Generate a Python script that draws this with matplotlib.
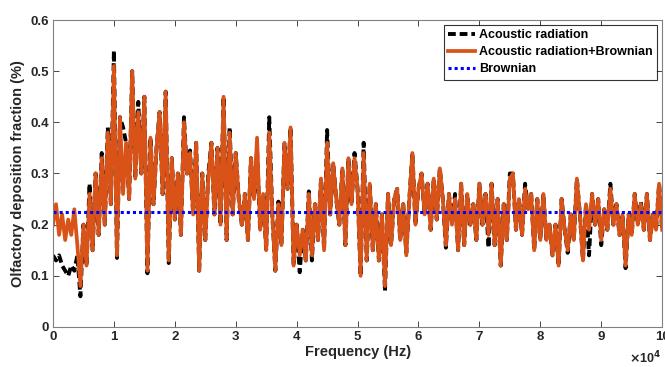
import matplotlib
matplotlib.use("Agg")
import matplotlib.pyplot as plt
import numpy as np

# Frequency grid (kHz steps of 0.5 -> Hz)
freq_khz = [i * 0.5 for i in range(201)]

ar_brownian = [
    0.20, 0.24, 0.18, 0.22, 0.17, 0.21, 0.18, 0.23, 0.16, 0.08,
    0.20, 0.12, 0.26, 0.15, 0.30, 0.18, 0.33, 0.20, 0.38, 0.24,
    0.51, 0.14, 0.41, 0.26, 0.36, 0.25, 0.50, 0.29, 0.42, 0.30,
    0.45, 0.11, 0.37, 0.24, 0.35, 0.42, 0.26, 0.46, 0.13, 0.33,
    0.21, 0.30, 0.18, 0.40, 0.30, 0.34, 0.22, 0.36, 0.11, 0.30,
    0.17, 0.29, 0.36, 0.22, 0.35, 0.20, 0.45, 0.17, 0.38, 0.22,
    0.34, 0.25, 0.20, 0.26, 0.17, 0.33, 0.25, 0.37, 0.19, 0.26,
    0.15, 0.38, 0.22, 0.11, 0.24, 0.16, 0.36, 0.27, 0.39, 0.12,
    0.20, 0.14, 0.19, 0.13, 0.26, 0.14, 0.24, 0.17, 0.29, 0.15,
    0.36, 0.22, 0.32, 0.25, 0.20, 0.31, 0.16, 0.33, 0.24, 0.33,
    0.27, 0.10, 0.34, 0.13, 0.28, 0.15, 0.24, 0.13, 0.22, 0.08,
    0.26, 0.16, 0.25, 0.27, 0.17, 0.24, 0.14, 0.25, 0.34, 0.20,
    0.27, 0.30, 0.22, 0.28, 0.19, 0.29, 0.21, 0.31, 0.25, 0.16,
    0.26, 0.20, 0.25, 0.15, 0.28, 0.16, 0.26, 0.20, 0.24, 0.17,
    0.28, 0.20, 0.26, 0.18, 0.28, 0.16, 0.25, 0.12, 0.24, 0.17,
    0.29, 0.30, 0.19, 0.25, 0.18, 0.27, 0.23, 0.26, 0.15, 0.25,
    0.17, 0.26, 0.17, 0.20, 0.14, 0.20, 0.12, 0.25, 0.19, 0.15,
    0.22, 0.17, 0.29, 0.22, 0.13, 0.24, 0.19, 0.26, 0.20, 0.25,
    0.17, 0.23, 0.19, 0.27, 0.20, 0.24, 0.18, 0.22, 0.12, 0.22,
    0.18, 0.26, 0.20, 0.24, 0.19, 0.26, 0.17, 0.22, 0.19, 0.28,
    0.19,
]

acoustic = [
    0.14, 0.13, 0.14, 0.12, 0.11, 0.10, 0.12, 0.11, 0.14, 0.06,
    0.20, 0.12, 0.28, 0.15, 0.30, 0.18, 0.34, 0.20, 0.39, 0.24,
    0.54, 0.135, 0.41, 0.39, 0.36, 0.25, 0.50, 0.29, 0.44, 0.30,
    0.45, 0.105, 0.37, 0.24, 0.35, 0.42, 0.26, 0.46, 0.125, 0.33,
    0.21, 0.30, 0.18, 0.41, 0.30, 0.345, 0.22, 0.36, 0.11, 0.30,
    0.17, 0.30, 0.36, 0.22, 0.35, 0.20, 0.45, 0.17, 0.39, 0.22,
    0.34, 0.25, 0.20, 0.26, 0.17, 0.33, 0.25, 0.345, 0.19, 0.26,
    0.15, 0.41, 0.22, 0.11, 0.245, 0.16, 0.36, 0.27, 0.39, 0.12,
    0.20, 0.107, 0.19, 0.13, 0.265, 0.13, 0.24, 0.17, 0.29, 0.15,
    0.385, 0.22, 0.32, 0.25, 0.20, 0.31, 0.16, 0.33, 0.24, 0.34,
    0.27, 0.10, 0.36, 0.13, 0.28, 0.15, 0.24, 0.13, 0.22, 0.07,
    0.26, 0.16, 0.25, 0.27, 0.17, 0.24, 0.145, 0.25, 0.34, 0.20,
    0.27, 0.30, 0.22, 0.28, 0.19, 0.29, 0.21, 0.31, 0.25, 0.155,
    0.26, 0.20, 0.26, 0.15, 0.28, 0.16, 0.26, 0.20, 0.24, 0.17,
    0.28, 0.20, 0.26, 0.155, 0.28, 0.16, 0.25, 0.12, 0.24, 0.17,
    0.30, 0.30, 0.19, 0.25, 0.18, 0.28, 0.23, 0.26, 0.15, 0.25,
    0.17, 0.26, 0.17, 0.20, 0.14, 0.20, 0.12, 0.25, 0.19, 0.145,
    0.22, 0.17, 0.29, 0.22, 0.13, 0.24, 0.14, 0.26, 0.20, 0.25,
    0.16, 0.23, 0.19, 0.28, 0.20, 0.24, 0.18, 0.22, 0.115, 0.22,
    0.18, 0.26, 0.20, 0.245, 0.19, 0.26, 0.17, 0.22, 0.19, 0.28,
    0.19,
]

brownian_level = 0.225

freq_hz = np.array(freq_khz) * 1000.0

plt.rcParams['font.family'] = ['Liberation Sans', 'DejaVu Sans']
plt.rcParams['font.weight'] = 'bold'

fig = plt.figure(figsize=(6.65, 3.67), dpi=100)
ax = fig.add_axes([0.0797, 0.109, 0.916, 0.8365])

ax.plot(freq_hz, acoustic, color='black', linestyle=(0, (2, 1)), linewidth=2.8,
        label='Acoustic radiation')
ax.plot(freq_hz, ar_brownian, color='#D95319', linestyle='-', linewidth=2.7,
        label='Acoustic radiation+Brownian')
ax.plot([freq_hz[0], freq_hz[-1]], [brownian_level, brownian_level], color='#0000FF',
        linestyle=(0, (1, 1)), linewidth=2.2, label='Brownian')

ax.set_xlim(0, 100000)
ax.set_ylim(0, 0.6)
ax.set_xticks(np.arange(0, 100001, 10000))
ax.set_xticklabels([str(i) for i in range(11)])
ax.set_yticks([0, 0.1, 0.2, 0.3, 0.4, 0.5, 0.6])
ax.set_yticklabels(['0', '0.1', '0.2', '0.3', '0.4', '0.5', '0.6'])

ax.tick_params(direction='in', top=True, right=True, length=4, width=0.6,
               labelsize=9.5, colors='#262626', pad=3)
for lbl in ax.get_xticklabels() + ax.get_yticklabels():
    lbl.set_fontweight('bold')
for s in ax.spines.values():
    s.set_color('#808080')
    s.set_linewidth(0.8)

ax.set_xlabel('Frequency (Hz)', fontsize=10.5, fontweight='bold', color='#262626', labelpad=1)
ax.set_ylabel('Olfactory deposition fraction (%)', fontsize=10.5, fontweight='bold',
              color='#262626', labelpad=4)
ax.text(0.998, -0.075, r'$\times$10$^4$', transform=ax.transAxes, ha='right', va='top',
        fontsize=9, fontweight='bold', color='#262626')

leg = ax.legend(loc='upper right', frameon=True, fancybox=False,
                handlelength=2.2, handletextpad=0.3, borderpad=0.35, labelspacing=0.4,
                borderaxespad=0.4, prop={'weight': 'bold', 'size': 9})
leg.get_frame().set_edgecolor('black')
leg.get_frame().set_linewidth(0.8)

fig.savefig('out.png', dpi=100)
